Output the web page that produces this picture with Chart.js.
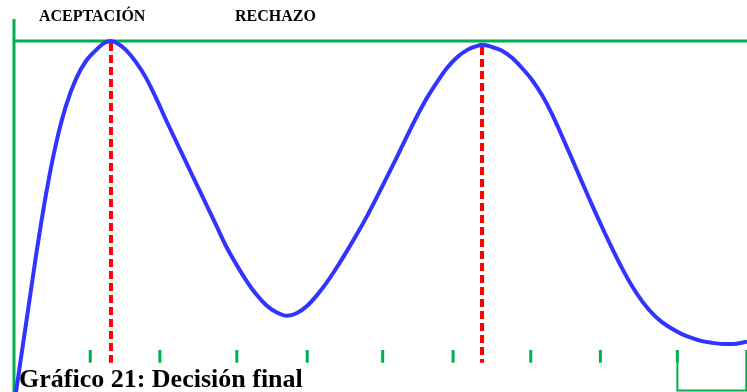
<!DOCTYPE html>
<html>
<head>
<meta charset="utf-8">
<script src="https://cdn.jsdelivr.net/npm/chart.js@4.4.0/dist/chart.umd.min.js"></script>
<style>
  html, body { margin: 0; padding: 0; background: #fff; }
  .wrap { position: relative; width: 747px; height: 392px; }
</style>
</head>
<body>
<div class="wrap"><canvas id="decision"></canvas></div>
<script>
// curve (x: position 0-100, y: level 0-100, 100 = top line)
const curveX = [0.27, 1.64, 3.00, 4.37, 5.73, 7.09, 8.46, 9.82, 11.19, 12.28, 13.23,
                14.19, 15.28, 16.64, 18.01, 19.37, 20.74, 22.10, 23.47, 24.83, 26.19, 27.56, 28.92,
                30.29, 31.65, 33.02, 34.38, 35.74, 37.24,
                38.61, 39.97, 41.34, 42.70, 44.07, 45.43, 46.79, 48.16, 49.52, 50.89, 52.25, 53.62,
                54.98, 56.34, 57.71, 59.07, 60.44, 61.80, 62.76, 63.85,
                65.21, 66.58, 67.94, 69.30, 70.67, 72.03, 73.40, 74.76, 76.13, 77.49, 78.85, 80.22,
                81.58, 82.95, 84.31, 85.68, 87.04, 88.40, 89.77, 91.13, 92.50, 93.86, 95.23, 96.59,
                97.95, 100];
const curveY = [0, 19.4, 38.8, 56.4, 70.7, 81.5, 89.2, 94.3, 97.4, 99.4, 100,
                99.2, 97.4, 94.0, 89.5, 83.8, 77.5, 71.5, 65.5, 59.5, 53.6, 47.6, 41.6,
                36.5, 31.9, 27.9, 24.8, 22.8, 21.7,
                22.5, 24.5, 27.6, 31.3, 35.6, 40.2, 45.0, 50.1, 55.6, 61.3, 67.0, 72.9,
                78.6, 83.8, 88.3, 92.3, 95.4, 97.4, 98.3, 98.9,
                98.3, 97.2, 95.2, 92.3, 88.9, 84.6, 79.2, 72.9, 66.4, 59.8, 53.3, 47.0,
                41.0, 35.3, 30.2, 25.9, 22.5, 19.9, 18.0, 16.5, 15.4, 14.5, 14.0, 13.7,
                13.7, 14.3];

// red dashed markers at the two peaks
const peakX = [13.23, 63.85];
const peakTop = [99.4, 98.3];
const peakBottom = 8.3;

// small green marks along the bottom
const tickX = [10.4, 19.9, 30.4, 40.0, 50.3, 59.9, 70.5, 80.0, 90.5, 99.9];
const tickLow = 8.3, tickHigh = 12.0;

const zoneLabels = ['ACEPTACIÓN', 'RECHAZO'];
const chartTitle = 'Gráfico 21: Decisión final';

const green = '#00b050';
const blue = '#3333ff';
const red = '#ff0000';

const curve = curveX.map((x, i) => ({x: x, y: curveY[i]}));

let tickPts = [];
tickX.slice(0, -1).forEach(x => {
  tickPts.push({x: x, y: tickLow}, {x: x, y: tickHigh}, {x: x, y: null});
});

const last = tickX.length - 1;
const bracket = [
  {x: tickX[last - 1], y: tickLow},
  {x: tickX[last - 1], y: 0.4},
  {x: tickX[last], y: 0.4},
  {x: tickX[last], y: tickHigh}
];

const peakSets = peakX.map((x, i) => ({
  data: [{x: x, y: peakTop[i]}, {x: x, y: peakBottom}],
  borderColor: red,
  borderWidth: 4,
  borderDash: [8, 4],
  pointRadius: 0,
  clip: false,
  order: 2
}));

const textPlugin = {
  id: 'texts',
  afterDraw(chart) {
    const ctx = chart.ctx;
    ctx.save();
    ctx.fillStyle = '#000';
    ctx.textBaseline = 'alphabetic';
    ctx.font = 'bold 16px "Liberation Serif", "Times New Roman", serif';
    ctx.fillText(zoneLabels[0], 39, 21);
    ctx.fillText(zoneLabels[1], 235, 21);
    ctx.font = 'bold 26px "Liberation Serif", "Times New Roman", serif';
    ctx.fillText(chartTitle, 19, 387);
    ctx.restore();
  }
};

new Chart(document.getElementById('decision'), {
  type: 'line',
  data: {
    datasets: [
      {
        data: curve,
        borderColor: blue,
        borderWidth: 4,
        cubicInterpolationMode: 'monotone',
        pointRadius: 0,
        clip: false,
        order: 0
      },
      ...peakSets,
      {
        // left axis and top line
        data: [{x: 0, y: 0}, {x: 0, y: 106.3}, {x: 0, y: null}, {x: 0, y: 100}, {x: 100, y: 100}],
        borderColor: green,
        borderWidth: 3,
        pointRadius: 0,
        spanGaps: false,
        clip: false,
        order: 3
      },
      {
        data: tickPts,
        borderColor: green,
        borderWidth: 3,
        pointRadius: 0,
        spanGaps: false,
        clip: false,
        order: 3
      },
      {
        data: bracket,
        borderColor: green,
        borderWidth: 2,
        pointRadius: 0,
        clip: false,
        order: 3
      }
    ]
  },
  options: {
    responsive: true,
    maintainAspectRatio: false,
    animation: false,
    layout: { padding: { top: 41, left: 14, right: 0, bottom: 0 } },
    scales: {
      x: { type: 'linear', min: 0, max: 100, display: false },
      y: { type: 'linear', min: 0, max: 100, display: false }
    },
    plugins: {
      legend: { display: false },
      tooltip: { enabled: false }
    }
  },
  plugins: [textPlugin]
});
</script>
</body>
</html>
